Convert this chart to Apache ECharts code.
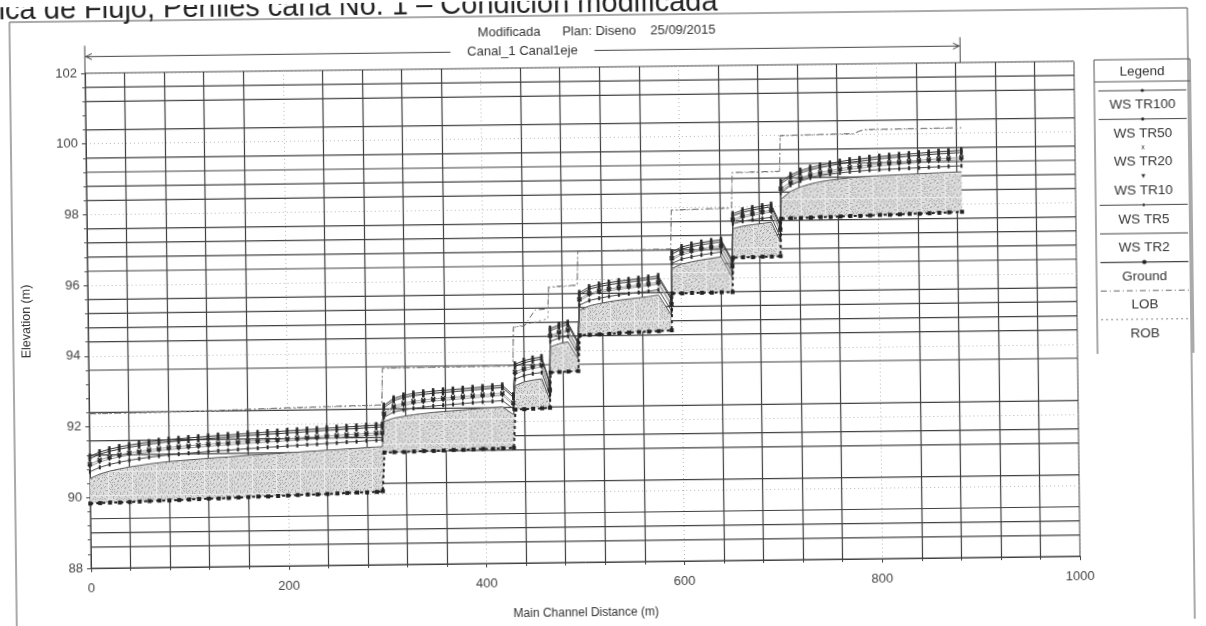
<!DOCTYPE html>
<html>
<head>
<meta charset="utf-8">
<title>Perfil de flujo - Canal 1</title>
<script src="https://cdn.jsdelivr.net/npm/echarts/dist/echarts.min.js"></script>
<style>
  html, body { margin: 0; padding: 0; background: #ffffff; overflow: hidden; }
  #chart {
    width: 1206px; height: 626px;
    transform: rotate(-0.7deg);
    transform-origin: 603px 313px;
  }
</style>
</head>
<body>
<div id="chart"></div>
<script>
// ---- Profile data (main channel distance in m, elevations in m) ----
const distance = [
  0,10,20,30,40,50,60,70,80,90,100,110,120,130,140,150,160,170,180,190,200,210,220,230,240,250,260,270,280,290,296,
  298,308,318,328,338,348,358,368,378,388,398,408,418,429,
  431,440,449,458,466,
  467,476,485,495,
  497,507,517,527,537,547,557,567,577,590,
  591,601,611,621,631,641,652,
  653,663,673,683,692,701,
  702,712,722,732,742,752,762,772,782,792,802,812,822,832,842,852,862,872,885
];

const ground = [
  89.83,89.84,89.85,89.85,89.86,89.87,89.88,89.89,89.89,89.90,89.91,89.92,89.93,89.93,89.94,89.95,89.96,89.97,89.97,89.98,89.99,90.00,90.01,90.01,90.02,90.03,90.04,90.05,90.05,90.06,90.08,
  91.17,91.18,91.18,91.19,91.20,91.20,91.21,91.22,91.22,91.23,91.24,91.24,91.25,91.26,
  92.34,92.35,92.36,92.37,92.38,
  93.38,93.39,93.40,93.41,
  94.42,94.43,94.44,94.45,94.47,94.48,94.49,94.50,94.51,94.53,
  95.57,95.57,95.58,95.58,95.58,95.59,95.59,
  96.56,96.57,96.57,96.58,96.58,96.59,
  97.65,97.66,97.66,97.67,97.68,97.68,97.69,97.70,97.70,97.71,97.72,97.72,97.73,97.74,97.74,97.75,97.76,97.77,97.78
];

const wsTR2 = [
  90.54,90.66,90.74,90.80,90.85,90.89,90.93,90.96,90.99,91.01,91.03,91.05,91.07,91.09,91.10,91.12,91.14,91.15,91.17,91.18,91.20,91.21,91.23,91.24,91.26,91.27,91.29,91.30,91.32,91.33,91.34,
  92.05,92.14,92.19,92.23,92.26,92.29,92.31,92.33,92.35,92.37,92.39,92.40,92.42,92.20,
  93.02,93.12,93.17,93.20,92.60,
  94.10,94.19,94.24,93.75,
  95.12,95.25,95.31,95.36,95.40,95.43,95.46,95.49,95.53,94.95,
  96.28,96.40,96.46,96.51,96.55,96.59,96.00,
  97.38,97.45,97.49,97.52,97.55,97.00,
  98.20,98.42,98.54,98.62,98.68,98.72,98.75,98.78,98.80,98.82,98.83,98.84,98.85,98.86,98.87,98.88,98.89,98.90,98.91
];

const wsTR5 = [
  90.73,90.85,90.93,90.99,91.04,91.08,91.12,91.15,91.18,91.20,91.22,91.24,91.26,91.28,91.29,91.31,91.33,91.34,91.36,91.37,91.39,91.40,91.42,91.43,91.45,91.46,91.48,91.49,91.51,91.52,91.53,
  92.17,92.32,92.37,92.41,92.44,92.47,92.49,92.51,92.53,92.55,92.57,92.58,92.60,92.36,
  93.20,93.30,93.35,93.38,92.74,
  94.26,94.35,94.40,93.88,
  95.27,95.40,95.46,95.51,95.55,95.58,95.61,95.64,95.68,95.08,
  96.42,96.54,96.60,96.65,96.69,96.73,96.13,
  97.52,97.59,97.63,97.66,97.69,97.13,
  98.37,98.59,98.71,98.79,98.85,98.89,98.92,98.95,98.97,98.99,99.00,99.01,99.02,99.03,99.04,99.05,99.06,99.07,99.08
];

const wsTR10 = [
  90.88,91.00,91.08,91.14,91.19,91.23,91.27,91.30,91.33,91.35,91.37,91.39,91.41,91.43,91.44,91.46,91.48,91.49,91.51,91.52,91.54,91.55,91.57,91.58,91.60,91.61,91.63,91.64,91.66,91.67,91.68,
  92.22,92.42,92.50,92.55,92.58,92.61,92.63,92.65,92.67,92.69,92.71,92.73,92.75,92.47,
  93.34,93.44,93.50,93.54,92.82,
  94.37,94.47,94.53,94.00,
  95.39,95.55,95.62,95.67,95.71,95.74,95.77,95.80,95.84,95.22,
  96.52,96.66,96.73,96.78,96.82,96.85,96.28,
  97.59,97.69,97.75,97.80,97.84,97.29,
  98.44,98.62,98.74,98.82,98.88,98.93,98.98,99.02,99.05,99.08,99.11,99.13,99.15,99.17,99.19,99.21,99.23,99.24,99.26
];

const wsTR20 = [
  90.94,91.06,91.14,91.20,91.25,91.29,91.33,91.36,91.39,91.41,91.43,91.45,91.47,91.49,91.50,91.52,91.54,91.55,91.57,91.58,91.60,91.61,91.63,91.64,91.66,91.67,91.69,91.70,91.72,91.73,91.74,
  92.28,92.48,92.56,92.61,92.64,92.67,92.69,92.71,92.73,92.75,92.77,92.79,92.81,92.53,
  93.40,93.50,93.56,93.60,92.88,
  94.42,94.52,94.58,94.05,
  95.44,95.60,95.67,95.72,95.76,95.79,95.82,95.85,95.89,95.27,
  96.57,96.71,96.78,96.83,96.87,96.90,96.33,
  97.64,97.74,97.80,97.85,97.89,97.34,
  98.50,98.68,98.80,98.88,98.94,98.99,99.04,99.08,99.11,99.14,99.17,99.19,99.21,99.23,99.25,99.27,99.29,99.30,99.32
];

const wsTR50 = [
  91.10,91.22,91.30,91.36,91.41,91.45,91.49,91.52,91.55,91.57,91.59,91.61,91.63,91.65,91.66,91.68,91.70,91.71,91.73,91.74,91.76,91.77,91.79,91.80,91.82,91.83,91.85,91.86,91.88,91.89,91.90,
  92.44,92.64,92.72,92.77,92.80,92.83,92.85,92.87,92.89,92.91,92.93,92.95,92.97,92.69,
  93.56,93.66,93.72,93.76,93.04,
  94.56,94.66,94.72,94.19,
  95.56,95.72,95.79,95.84,95.88,95.91,95.94,95.97,96.01,95.39,
  96.68,96.82,96.89,96.94,96.98,97.01,96.44,
  97.74,97.84,97.90,97.95,97.99,97.44,
  98.64,98.82,98.94,99.02,99.08,99.13,99.18,99.22,99.25,99.28,99.31,99.33,99.35,99.37,99.39,99.41,99.43,99.44,99.46
];

const wsTR100 = [
  91.16,91.28,91.36,91.42,91.47,91.51,91.55,91.58,91.61,91.63,91.65,91.67,91.69,91.71,91.72,91.74,91.76,91.77,91.79,91.80,91.82,91.83,91.85,91.86,91.88,91.89,91.91,91.92,91.94,91.95,91.96,
  92.50,92.70,92.78,92.83,92.86,92.89,92.91,92.93,92.95,92.97,92.99,93.01,93.03,92.75,
  93.62,93.72,93.78,93.82,93.10,
  94.62,94.72,94.78,94.25,
  95.62,95.78,95.85,95.90,95.94,95.97,96.00,96.03,96.07,95.45,
  96.74,96.88,96.95,97.00,97.04,97.07,96.50,
  97.80,97.90,97.96,98.01,98.05,97.50,
  98.70,98.88,99.00,99.08,99.14,99.19,99.24,99.28,99.31,99.34,99.37,99.39,99.41,99.43,99.45,99.47,99.49,99.50,99.52
];

// Bank stations: [distance, elevation]
const lobPoints = [
  [0,92.37],[120,92.41],[200,92.47],[296,92.52],
  [297,93.56],[429,93.58],
  [430,94.68],[441,94.70],[452,95.15],[465,95.18],
  [466,95.80],[495,95.84],
  [496,96.80],[590,96.83],
  [591,97.93],[652,97.97],
  [653,98.97],[701,98.99],
  [702,100.00],[776,100.03],[786,100.14],[885,100.16]
];
const robPoints = [
  [0,92.36],[120,92.40],[200,92.46],[296,92.51],
  [297,93.55],[429,93.57],
  [430,94.66],[465,94.90],
  [466,95.78],[495,95.83],
  [496,96.79],[590,96.82],
  [591,97.92],[652,97.96],
  [653,98.96],[701,98.98],
  [702,99.99],[776,100.02],[786,100.13],[885,100.15]
];

// Minor horizontal grid levels (m)
const gridLevels = [101.6,101.2,100.4,99.6,99.2,98.8,98.4,97.6,97.2,96.8,96.4,95.6,95.2,94.8,94.4,93.6,92.4,91.6,91.2,90.3,89.4,89.0,88.6];
const reachSpan = [0, 885];
const reachLabel = 'Canal_1 Canal1eje';
const legendNames = ['WS TR100','WS TR50','WS TR20','WS TR10','WS TR5','WS TR2','Ground','LOB','ROB'];

const FONT = '"Liberation Sans", Arial, sans-serif';
const GRID_DARK = '#404040';
const pairs = arr => distance.map((d, i) => [d, arr[i]]);

// fine printed stipple used for the water fill
function stipple() {
  const c = document.createElement('canvas');
  c.width = 24; c.height = 24;
  const g = c.getContext('2d');
  g.fillStyle = '#dadada';
  g.fillRect(0, 0, 24, 24);
  for (let i = 0; i < 24; i++) {
    for (let j = 0; j < 24; j++) {
      const h = (i * 73 + j * 151 + i * j * 7) % 17;
      if (h < 3) { g.fillStyle = '#a9a9a9'; g.fillRect(i, j, 1, 1); }
      else if (h > 14) { g.fillStyle = '#ececec'; g.fillRect(i, j, 1, 1); }
    }
  }
  return c;
}
const waterFill = { image: stipple(), repeat: 'repeat' };

const wsSeries = [
  { name: 'WS TR100', data: wsTR100, symbol: 'rect', size: [2.5, 6], line: '#333' },
  { name: 'WS TR50',  data: wsTR50,  symbol: 'rect', size: [2.5, 6], line: '#333' },
  { name: 'WS TR20',  data: wsTR20,  symbol: 'path://M0,2L2,0L5,3L8,0L10,2L7,5L10,8L8,10L5,7L2,10L0,8L3,5Z', size: 5, line: '#999' },
  { name: 'WS TR10',  data: wsTR10,  symbol: 'path://M0,0L10,0L5,10Z', size: 5, line: '#999' },
  { name: 'WS TR5',   data: wsTR5,   symbol: 'rect', size: [2, 4], line: '#444' },
  { name: 'WS TR2',   data: wsTR2,   symbol: 'none', size: 0, line: '#555' }
].map(p => ({
  name: p.name,
  type: 'line',
  data: pairs(p.data),
  symbol: p.symbol,
  symbolSize: p.size,
  showSymbol: p.symbol !== 'none',
  itemStyle: { color: '#2a2a2a' },
  lineStyle: { color: p.line, width: 1 },
  z: 4,
  silent: true
}));

const chart = echarts.init(document.getElementById('chart'), null, { renderer: 'canvas' });

// Legend box drawn in the HEC-RAS style: sample above each name
const LG = { x: 1097, w: 96, top: 66, bottom: 360 };
const legendGraphics = [
  { type: 'polyline', shape: { points: [[LG.x, LG.bottom], [LG.x, LG.top], [LG.x + LG.w, LG.top], [LG.x + LG.w, LG.bottom]] },
    style: { stroke: '#555', lineWidth: 1, fill: null } },
  { type: 'text', style: { text: 'Legend', x: LG.x + LG.w / 2, y: 78, align: 'center', verticalAlign: 'middle', font: '13.5px ' + FONT, fill: '#333' } },
  { type: 'line', shape: { x1: LG.x, y1: 88, x2: LG.x + LG.w, y2: 88 }, style: { stroke: '#555', lineWidth: 1 } }
];
legendNames.forEach((name, i) => {
  const sy = 97 + 28.6 * i;
  const cx = LG.x + LG.w / 2;
  const x1 = LG.x + 4, x2 = LG.x + LG.w - 4;
  const hasLine = name !== 'WS TR20' && name !== 'WS TR10';
  if (hasLine) {
    let dash = null, stroke = '#444', lw = 1;
    if (name === 'LOB') { dash = [6, 3, 1, 3]; stroke = '#666'; }
    if (name === 'ROB') { dash = [2, 3]; stroke = '#888'; }
    if (name === 'Ground') { lw = 1.2; }
    legendGraphics.push({ type: 'line', shape: { x1, y1: sy, x2, y2: sy }, style: { stroke, lineWidth: lw, lineDash: dash } });
  }
  if (name === 'WS TR100' || name === 'WS TR50' || name === 'Ground') {
    legendGraphics.push({ type: 'circle', shape: { cx, cy: sy, r: name === 'Ground' ? 2.2 : 1.6 }, style: { fill: '#222' } });
  } else if (name === 'WS TR20') {
    legendGraphics.push({ type: 'text', style: { text: 'x', x: cx, y: sy, align: 'center', verticalAlign: 'middle', font: '7px ' + FONT, fill: '#333' } });
  } else if (name === 'WS TR10') {
    legendGraphics.push({ type: 'polygon', shape: { points: [[cx - 2, sy - 2], [cx + 2, sy - 2], [cx, sy + 2]] }, style: { fill: '#333' } });
  } else if (name === 'WS TR5') {
    legendGraphics.push({ type: 'rect', shape: { x: cx - 0.8, y: sy - 1.5, width: 1.6, height: 3 }, style: { fill: '#333' } });
  }
  legendGraphics.push({ type: 'text', style: { text: name, x: cx, y: sy + 14.5, align: 'center', verticalAlign: 'middle', font: '13.5px ' + FONT, fill: '#333' } });
});

const option = {
  animation: false,
  backgroundColor: '#ffffff',
  textStyle: { fontFamily: FONT },
  grid: { left: 88, top: 67, width: 989, height: 495, show: true, borderColor: '#404040', borderWidth: 1, backgroundColor: 'transparent' },
  xAxis: {
    type: 'value', min: 0, max: 1000, interval: 200,
    name: 'Main Channel Distance (m)', nameLocation: 'middle', nameGap: 45,
    nameTextStyle: { fontSize: 12, color: '#333', fontFamily: FONT },
    axisLine: { show: true, lineStyle: { color: '#404040', width: 1 } },
    axisTick: { show: true, length: 4, lineStyle: { color: '#444' } },
    minorTick: { show: true, splitNumber: 5, length: 3, lineStyle: { color: '#444' } },
    axisLabel: { fontSize: 13, color: '#444', margin: 14, fontFamily: FONT, formatter: v => String(v) },
    splitLine: { show: true, lineStyle: { color: '#b8b8b8', type: [1, 3], width: 1 } },
    minorSplitLine: { show: true, lineStyle: { color: GRID_DARK, width: 1.2 } }
  },
  yAxis: {
    type: 'value', min: 88, max: 102, interval: 2,
    name: 'Elevation (m)', nameLocation: 'middle', nameGap: 55, nameRotate: 90,
    nameTextStyle: { fontSize: 12.5, color: '#333', fontFamily: FONT },
    axisLine: { show: true, lineStyle: { color: '#404040', width: 1 } },
    axisTick: { show: true, length: 4, lineStyle: { color: '#444' } },
    minorTick: { show: true, splitNumber: 5, length: 3, lineStyle: { color: '#555' } },
    axisLabel: { fontSize: 13, color: '#444', margin: 8, fontFamily: FONT },
    splitLine: { show: true, lineStyle: { color: '#b8b8b8', type: [1, 3], width: 1 } },
    minorSplitLine: { show: false }
  },
  graphic: [
    { type: 'rect', shape: { x: 13, y: 15, width: 1178, height: 612 }, style: { fill: null, stroke: '#555', lineWidth: 1 }, z: 0 },
    { type: 'text', style: { text: 'Gráfica de Flujo, Perfiles caña No. 1 – Condición modificada', x: -54, y: 4, verticalAlign: 'middle', font: '29px ' + FONT, fill: '#222' } },
    { type: 'text', style: { text: 'Modificada      Plan: Diseno    25/09/2015', x: 600, y: 31, align: 'center', verticalAlign: 'middle', font: '13px ' + FONT, fill: '#333' } }
  ].concat(legendGraphics),
  series: [
    // dark minor grid lines at the read elevation levels
    {
      type: 'custom', z: 1, silent: true,
      data: [[0, 88]],
      renderItem: (params, api) => ({
        type: 'group',
        children: gridLevels.map(v => {
          const a = api.coord([0, v]), b = api.coord([1000, v]);
          return { type: 'line', shape: { x1: a[0], y1: a[1], x2: b[0], y2: b[1] }, style: { stroke: GRID_DARK, lineWidth: 1.2 } };
        })
      })
    },
    // water between channel bed and lowest water surface
    {
      type: 'custom', z: 2, silent: true,
      data: [[0, 90]],
      renderItem: (params, api) => {
        const top = distance.map((d, i) => api.coord([d, wsTR2[i]]));
        const bot = distance.map((d, i) => api.coord([d, ground[i]])).reverse();
        return { type: 'polygon', shape: { points: top.concat(bot) }, style: { fill: waterFill, stroke: null } };
      }
    },
    ...wsSeries,
    {
      name: 'Ground', type: 'line', data: pairs(ground), z: 5, silent: true,
      symbol: 'rect', symbolSize: [4, 4], showSymbol: true,
      itemStyle: { color: '#222' },
      lineStyle: { color: '#222', width: 2, type: [3, 3] }
    },
    {
      name: 'LOB', type: 'line', data: lobPoints, z: 3, silent: true, symbol: 'none',
      lineStyle: { color: '#666', width: 1, type: [6, 3, 1, 3] }
    },
    {
      name: 'ROB', type: 'line', data: robPoints, z: 3, silent: true, symbol: 'none',
      lineStyle: { color: '#8a8a8a', width: 1, type: [2, 3] }
    },
    // reach label line above the plot
    {
      type: 'custom', z: 6, silent: true, clip: false,
      data: [[reachSpan[0], 102]],
      renderItem: (params, api) => {
        const ly = 102.47;
        const a = api.coord([reachSpan[0], ly]);
        const b = api.coord([reachSpan[1], ly]);
        const mid = (a[0] + b[0]) / 2;
        const gap = 72;
        const barBot = api.coord([reachSpan[1], 102]);
        const barTop = api.coord([reachSpan[1], 102.72]);
        const axTop = api.coord([reachSpan[0], 102.78]);
        const axBot = api.coord([reachSpan[0], 102]);
        const st = { stroke: '#444', lineWidth: 1 };
        return {
          type: 'group',
          children: [
            { type: 'line', shape: { x1: a[0], y1: a[1], x2: mid - gap, y2: a[1] }, style: st },
            { type: 'line', shape: { x1: mid + gap, y1: b[1], x2: b[0], y2: b[1] }, style: st },
            { type: 'polyline', shape: { points: [[a[0] + 7, a[1] - 3], [a[0] + 1, a[1]], [a[0] + 7, a[1] + 3]] }, style: { stroke: '#444', lineWidth: 1, fill: null } },
            { type: 'polyline', shape: { points: [[b[0] - 7, b[1] - 3], [b[0] - 1, b[1]], [b[0] - 7, b[1] + 3]] }, style: { stroke: '#444', lineWidth: 1, fill: null } },
            { type: 'line', shape: { x1: barBot[0], y1: barBot[1], x2: barTop[0], y2: barTop[1] }, style: st },
            { type: 'line', shape: { x1: axBot[0], y1: axBot[1], x2: axTop[0], y2: axTop[1] }, style: st },
            { type: 'text', style: { text: reachLabel, x: mid, y: a[1], align: 'center', verticalAlign: 'middle', font: '13px ' + FONT, fill: '#333' } }
          ]
        };
      }
    }
  ]
};

chart.setOption(option);
</script>
</body>
</html>
